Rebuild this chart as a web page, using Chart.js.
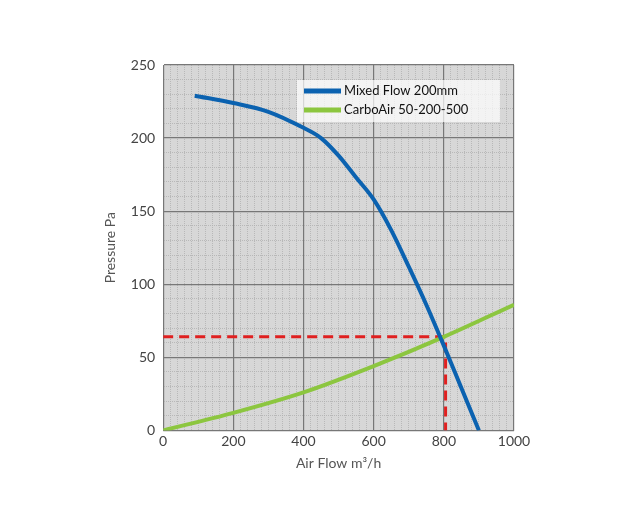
<!DOCTYPE html>
<html>
<head>
<script src="https://cdn.jsdelivr.net/npm/chart.js@4"></script>
<style>body{margin:0;background:#fff}#w{width:625px;height:520px}</style>
</head>
<body>
<div id="w"><canvas id="c"></canvas></div>
<script>
const mixedX = [90, 200, 300, 400, 450, 500, 550, 600, 650, 700, 750, 800, 850, 900];
const mixedY = [229, 224, 218, 207, 200, 188, 173, 158, 137, 112, 86, 58, 29, 0];
const carboX = [0, 200, 400, 600, 800, 1000];
const carboY = [0, 12, 26, 44, 64, 86];
const opX = [0, 805, 805];
const opY = [64, 64, 0];

const zip = (xs, ys) => xs.map((x, i) => ({ x: x, y: ys[i] }));
const font = { family: 'Lato', size: 14 };

const bg = {
  id: 'bg',
  beforeDraw(chart) {
    const a = chart.chartArea, ctx = chart.ctx;
    ctx.save();
    ctx.fillStyle = '#d7d7d7';
    ctx.fillRect(a.left, a.top, a.right - a.left, a.bottom - a.top);
    ctx.restore();
  }
};

// legend box drawn inside the plot, top right
const legendBox = {
  id: 'legendBox',
  afterDatasetsDraw(chart) {
    const a = chart.chartArea, ctx = chart.ctx;
    const x0 = 297, y0 = 80, w = 203, h = 42;
    ctx.save();
    ctx.fillStyle = 'rgba(255,255,255,0.7)';
    ctx.fillRect(x0, y0, w, h);
    ctx.font = '13px Lato';
    ctx.textBaseline = 'middle';
    chart.data.datasets.slice(0, 2).forEach((ds, i) => {
      const yy = y0 + 11 + i * 19;
      ctx.fillStyle = ds.borderColor;
      ctx.fillRect(x0 + 7, yy - 2.5, 37, 5);
      ctx.fillStyle = '#111';
      ctx.fillText(ds.label, x0 + 47, yy);
    });
    ctx.restore();
  }
};

new Chart(document.getElementById('c'), {
  type: 'scatter',
  data: {
    datasets: [
      { label: 'Mixed Flow 200mm', data: zip(mixedX, mixedY), showLine: true, borderColor: '#0b62b0', backgroundColor: '#0b62b0', borderWidth: 4, pointRadius: 0, cubicInterpolationMode: 'monotone' },
      { label: 'CarboAir 50-200-500', data: zip(carboX, carboY), showLine: true, borderColor: '#8cc63f', backgroundColor: '#8cc63f', borderWidth: 4, pointRadius: 0, cubicInterpolationMode: 'monotone' },
      { label: 'op', data: zip(opX, opY), showLine: true, borderColor: '#e02020', borderWidth: 3, borderDash: [10, 6], pointRadius: 0 }
    ]
  },
  options: {
    animation: false,
    responsive: true,
    maintainAspectRatio: false,
    layout: { padding: { left: 98, right: 111, top: 65, bottom: 46 } },
    plugins: {
      legend: { display: false },
      tooltip: { enabled: false }
    },
    scales: {
      x: {
        type: 'linear', min: 0, max: 1000,
        ticks: { stepSize: 20, autoSkip: false, maxRotation: 0, color: '#444', font: font,
          callback: v => v % 200 === 0 ? v : '' },
        grid: { color: c => c.tick.value % 200 === 0 ? '#777' : '#b0b0b0', lineWidth: c => c.tick.value % 200 === 0 ? 1.2 : 0.8, drawTicks: false },
        border: { color: '#777', dash: c => c.tick && c.tick.value % 200 !== 0 ? [1, 1] : [] },
        title: { display: true, text: 'Air Flow m³/h', color: '#555', font: font, padding: 2 }
      },
      y: {
        min: 0, max: 250,
        ticks: { stepSize: 10, autoSkip: false, color: '#444', font: font, padding: 8,
          callback: v => v % 50 === 0 ? v : '' },
        grid: { color: c => c.tick.value % 50 === 0 ? '#777' : '#b0b0b0', lineWidth: c => c.tick.value % 50 === 0 ? 1.2 : 0.8, drawTicks: false },
        border: { color: '#777', dash: c => c.tick && c.tick.value % 50 !== 0 ? [1, 1] : [] },
        title: { display: true, text: 'Pressure Pa', color: '#555', font: font }
      }
    }
  },
  plugins: [bg, legendBox]
});
</script>
</body>
</html>
